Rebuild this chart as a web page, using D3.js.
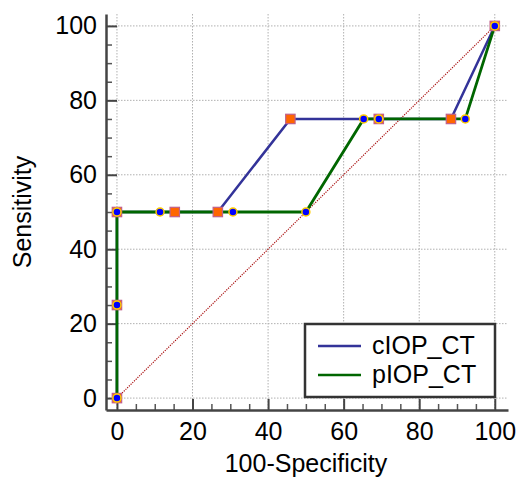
<!DOCTYPE html>
<html><head><meta charset="utf-8">
<script src="https://cdn.jsdelivr.net/npm/d3@7"></script>
<style>body{margin:0;background:#fff}svg{display:block}text{font-family:"Liberation Sans",Arial,sans-serif}</style>
</head><body><svg id="c" width="519" height="479"></svg>
<script>
const seriesNames = ["cIOP_CT", "pIOP_CT"];
const cIOP_x = [0, 0, 0, 15.3, 26.7, 45.9, 69.3, 88.4, 100];
const cIOP_y = [0, 25, 50, 50, 50, 75, 75, 75, 100];
const pIOP_x = [0, 0, 0, 11.4, 30.7, 50, 65.3, 69.3, 92.2, 100];
const pIOP_y = [0, 25, 50, 50, 50, 50, 75, 75, 75, 100];
const majorTicks = [0, 20, 40, 60, 80, 100];
const minorTicks = d3.range(0, 101, 5);
const xTitle = "100-Specificity", yTitle = "Sensitivity";

const svg = d3.select("#c");
const x = d3.scaleLinear().domain([-2.9, 103.5]).range([106, 508]);
const y = d3.scaleLinear().domain([-3.2, 103.2]).range([410, 14]);
const FONT = 25;

// gridlines
const g = svg.append("g");
g.selectAll(".vg").data(majorTicks).enter().append("line")
  .attr("x1", d => x(d)).attr("x2", d => x(d)).attr("y1", y.range()[1]).attr("y2", y.range()[0])
  .attr("stroke", "#b0b0b0").attr("stroke-width", 1).attr("stroke-dasharray", "1.5,1.5");
g.selectAll(".hg").data(majorTicks).enter().append("line")
  .attr("y1", d => y(d)).attr("y2", d => y(d)).attr("x1", x.range()[0]).attr("x2", x.range()[1])
  .attr("stroke", "#b0b0b0").attr("stroke-width", 1).attr("stroke-dasharray", "1.5,1.5");

// diagonal
svg.append("line").attr("x1", x(0)).attr("y1", y(0)).attr("x2", x(100)).attr("y2", y(100))
  .attr("stroke", "#aa1111").attr("stroke-width", 1.2).attr("stroke-dasharray", "1.2,1.2");

// axes
function styleAxis(sel) {
  sel.selectAll("path.domain").attr("stroke", "#444").attr("stroke-width", 2.5);
  sel.selectAll(".tick line").attr("stroke", "#444").attr("stroke-width", 2);
  sel.selectAll("text").attr("font-size", FONT).attr("fill", "#000").attr("font-family", "Liberation Sans, Arial, sans-serif");
}
const xMinor = svg.append("g").attr("transform", `translate(0,${y.range()[0]})`)
  .call(d3.axisBottom(x).tickValues(minorTicks.filter(d => d % 20)).tickSize(-6).tickSizeOuter(0).tickFormat(""));
xMinor.selectAll(".tick line").attr("stroke", "#555").attr("stroke-width", 1.5);
xMinor.select("path.domain").remove();
const yMinor = svg.append("g").attr("transform", `translate(${x.range()[0]},0)`)
  .call(d3.axisLeft(y).tickValues(minorTicks.filter(d => d % 20)).tickSize(-6).tickSizeOuter(0).tickFormat(""));
yMinor.selectAll(".tick line").attr("stroke", "#555").attr("stroke-width", 1.5);
yMinor.select("path.domain").remove();

const xAxis = svg.append("g").attr("transform", `translate(0,${y.range()[0]})`)
  .call(d3.axisBottom(x).tickValues(majorTicks).tickSize(-11).tickSizeOuter(0).tickPadding(12));
styleAxis(xAxis);
const yAxis = svg.append("g").attr("transform", `translate(${x.range()[0]},0)`)
  .call(d3.axisLeft(y).tickValues(majorTicks).tickSize(-11).tickSizeOuter(0).tickPadding(9));
styleAxis(yAxis);

// titles
svg.append("text").attr("x", 306).attr("y", 472).attr("text-anchor", "middle")
  .attr("font-size", FONT).text(xTitle);
svg.append("text").attr("transform", "translate(31,212) rotate(-90)").attr("text-anchor", "middle")
  .attr("font-size", FONT).text(yTitle);

// lines
const line = d3.line().x(d => x(d[0])).y(d => y(d[1]));
const cPts = cIOP_x.map((v, i) => [v, cIOP_y[i]]);
const pPts = pIOP_x.map((v, i) => [v, pIOP_y[i]]);
svg.append("path").datum(cPts).attr("d", line).attr("fill", "none").attr("stroke", "#333399").attr("stroke-width", 2.5);
svg.append("path").datum(pPts).attr("d", line).attr("fill", "none").attr("stroke", "#006600").attr("stroke-width", 2.8);

// markers
svg.selectAll(".sq").data(cPts).enter().append("rect")
  .attr("x", d => x(d[0]) - 4.7).attr("y", d => y(d[1]) - 4.7).attr("width", 9.4).attr("height", 9.4)
  .attr("fill", "#ff6600").attr("stroke", "#c0608a").attr("stroke-width", 1.2);
svg.selectAll(".ci").data(pPts).enter().append("circle")
  .attr("cx", d => x(d[0])).attr("cy", d => y(d[1])).attr("r", 4)
  .attr("fill", "#0000ff").attr("stroke", "#ffcc00").attr("stroke-width", 1.5);

// legend
const lg = svg.append("g");
lg.append("rect").attr("x", 305).attr("y", 324).attr("width", 190).attr("height", 73)
  .attr("fill", "#fff").attr("stroke", "#333").attr("stroke-width", 2.5);
const legColors = ["#333399", "#006600"];
seriesNames.forEach((n, i) => {
  const yy = 346 + i * 29;
  lg.append("line").attr("x1", 318).attr("x2", 361).attr("y1", yy).attr("y2", yy)
    .attr("stroke", legColors[i]).attr("stroke-width", 2.5);
  lg.append("text").attr("x", 372).attr("y", yy + 7.5).attr("font-size", FONT).text(n);
});
</script></body></html>
